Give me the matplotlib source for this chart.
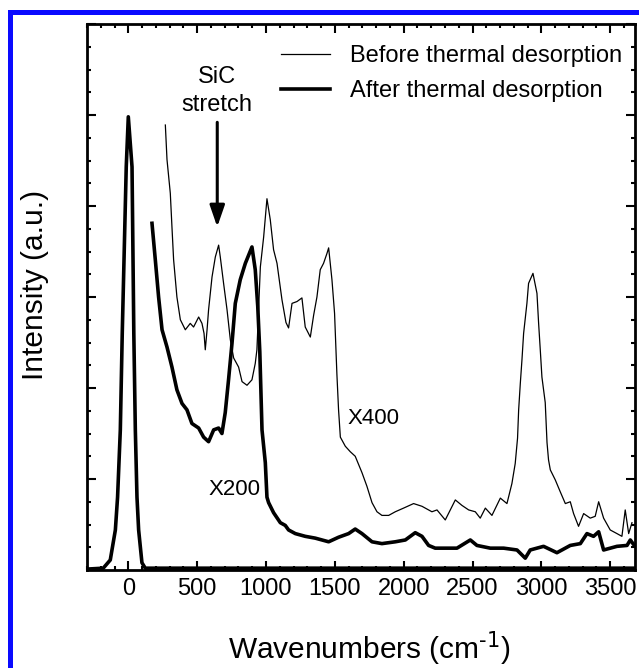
import matplotlib
matplotlib.use("Agg")
import matplotlib.pyplot as plt
from matplotlib.patches import Rectangle
from matplotlib.ticker import MultipleLocator, NullFormatter

plt.rcParams['font.family'] = ['Liberation Sans', 'DejaVu Sans']
plt.rcParams['mathtext.default'] = 'regular'

# after thermal desorption, unscaled (laser line at 0)
after_x1_wn = [-300, -182, -131, -94, -78, -58, -44, -15, 0, 27,
               40, 51, 63, 75, 99, 123, 500, 1500, 2500, 3680]
after_x1_int = [0.01, 0.02, 0.11, 0.44, 0.80, 1.54, 2.60, 4.43, 4.98, 4.43,
                2.60, 1.54, 0.80, 0.44, 0.08, 0.02, 0.02, 0.02, 0.02, 0.02]

# after thermal desorption, X200
after_wn = [172, 196, 220, 245, 281, 317, 353, 390, 426, 462,
            511, 547, 583, 620, 656, 680, 704, 728, 753, 777,
            813, 850, 898, 922, 940, 955, 971, 995, 1007, 1019,
            1055, 1104, 1140, 1164, 1213, 1285, 1358, 1455, 1527, 1600,
            1648, 1697, 1770, 1842, 1939, 2012, 2084, 2133, 2181, 2229,
            2290, 2387, 2484, 2532, 2629, 2726, 2823, 2883, 2919, 3016,
            3113, 3210, 3283, 3331, 3379, 3416, 3452, 3549, 3622, 3646,
            3670]
after_int = [3.81, 3.41, 3.00, 2.64, 2.45, 2.23, 1.98, 1.83, 1.76, 1.61,
             1.56, 1.46, 1.41, 1.54, 1.56, 1.50, 1.73, 2.09, 2.49, 2.93,
             3.19, 3.37, 3.55, 3.30, 2.90, 2.40, 1.54, 1.18, 0.80, 0.74,
             0.63, 0.52, 0.49, 0.44, 0.40, 0.37, 0.35, 0.31, 0.36, 0.40,
             0.45, 0.40, 0.31, 0.29, 0.31, 0.33, 0.41, 0.37, 0.27, 0.24,
             0.24, 0.24, 0.33, 0.27, 0.24, 0.24, 0.22, 0.13, 0.22, 0.26,
             0.19, 0.27, 0.29, 0.40, 0.37, 0.42, 0.22, 0.26, 0.27, 0.33,
             0.28]

# before thermal desorption, X400
before_wn = [269, 281, 305, 317, 329, 353, 378, 414, 450, 474,
             511, 535, 550, 559, 572, 583, 608, 632, 656, 668,
             692, 717, 741, 765, 801, 826, 862, 898, 922, 934,
             959, 983, 1007, 1031, 1055, 1080, 1116, 1145, 1164, 1189,
             1225, 1261, 1285, 1322, 1346, 1370, 1394, 1418, 1443, 1455,
             1479, 1498, 1515, 1527, 1540, 1576, 1612, 1648, 1697, 1733,
             1770, 1806, 1842, 1891, 1939, 1999, 2072, 2133, 2205, 2242,
             2302, 2375, 2423, 2472, 2520, 2556, 2593, 2641, 2702, 2750,
             2786, 2810, 2827, 2835, 2847, 2859, 2871, 2895, 2907, 2939,
             2968, 2980, 2992, 3004, 3028, 3041, 3052, 3065, 3101, 3137,
             3174, 3210, 3234, 3270, 3307, 3355, 3391, 3416, 3452, 3500,
             3549, 3585, 3609, 3634, 3658]
before_int = [4.89, 4.51, 4.14, 3.77, 3.41, 3.00, 2.75, 2.64, 2.71, 2.67,
              2.78, 2.71, 2.60, 2.42, 2.64, 2.86, 3.22, 3.44, 3.57, 3.44,
              3.15, 2.86, 2.53, 2.33, 2.23, 2.07, 2.03, 2.09, 2.27, 2.42,
              3.33, 3.66, 4.08, 3.85, 3.52, 3.37, 2.97, 2.72, 2.66, 2.93,
              2.95, 2.99, 2.67, 2.56, 2.80, 3.00, 3.30, 3.37, 3.48, 3.54,
              3.19, 2.82, 2.15, 1.76, 1.46, 1.36, 1.30, 1.25, 1.07, 0.92,
              0.74, 0.64, 0.60, 0.60, 0.64, 0.68, 0.73, 0.70, 0.64, 0.66,
              0.55, 0.77, 0.71, 0.66, 0.64, 0.57, 0.68, 0.60, 0.79, 0.73,
              0.95, 1.17, 1.45, 1.76, 2.05, 2.31, 2.60, 2.93, 3.15, 3.26,
              3.04, 2.71, 2.42, 2.12, 1.84, 1.40, 1.21, 1.10, 0.99, 0.86,
              0.73, 0.75, 0.62, 0.48, 0.62, 0.57, 0.59, 0.75, 0.57, 0.44,
              0.40, 0.37, 0.66, 0.40, 0.52]

xticks = [0, 500, 1000, 1500, 2000, 2500, 3000, 3500]

fig = plt.figure(figsize=(6.39, 6.68), dpi=100)
ax = fig.add_axes([87/639, 1 - 570/668, 548/639, 546/668])

ax.plot(before_wn, before_int, color='black', lw=0.9, label='Before thermal desorption')
ax.plot(after_wn, after_int, color='black', lw=2.6, label='After thermal desorption')
ax.plot(after_x1_wn, after_x1_int, color='black', lw=2.6)

ax.set_xlim(-300, 3680)
ax.set_ylim(0, 6)
ax.set_xticks(xticks)
ax.xaxis.set_minor_locator(MultipleLocator(100))
ax.yaxis.set_major_locator(MultipleLocator(1))
ax.yaxis.set_minor_locator(MultipleLocator(0.25))
ax.yaxis.set_major_formatter(NullFormatter())
ax.tick_params(which='both', direction='in', top=True, right=True, width=1.5)
ax.tick_params(which='major', length=6.5, labelsize=17, pad=6)
ax.tick_params(which='minor', length=3.2)
for s in ax.spines.values():
    s.set_linewidth(2)

# annotations
ax.text(646, 5.42, 'SiC', ha='center', va='center', fontsize=17)
ax.text(646, 5.11, 'stretch', ha='center', va='center', fontsize=17)
ax.annotate('', xy=(646, 3.74), xytext=(646, 4.95),
            arrowprops=dict(arrowstyle='-|>,head_width=0.45,head_length=1.3',
                            color='black', lw=2.2))
ax.text(1590, 1.66, 'X400', ha='left', va='center', fontsize=16)
ax.text(581, 0.89, 'X200', ha='left', va='center', fontsize=16)

ax.legend(loc='upper right', bbox_to_anchor=(0.976, 0.961), frameon=False,
          fontsize=17, handlelength=2.08, handletextpad=0.85,
          labelspacing=0.55, borderpad=0, borderaxespad=0)

fig.text(35/639, 1 - 285/668, 'Intensity (a.u.)', rotation=90,
         ha='center', va='center', fontsize=21.5)
fig.text(369/639, 1 - 658/668, r'Wavenumbers (cm$^{\text{-1}}$)', ha='center',
         va='baseline', fontsize=21.5)

# blue frame around the figure (cut off at right and bottom)
fig.patches.append(Rectangle((10/639, -0.2), 1.2, 1 - 12/668 + 0.2,
                             transform=fig.transFigure, fill=False,
                             edgecolor='#0a0aff', lw=3.6))

fig.savefig('out.png', dpi=100)
